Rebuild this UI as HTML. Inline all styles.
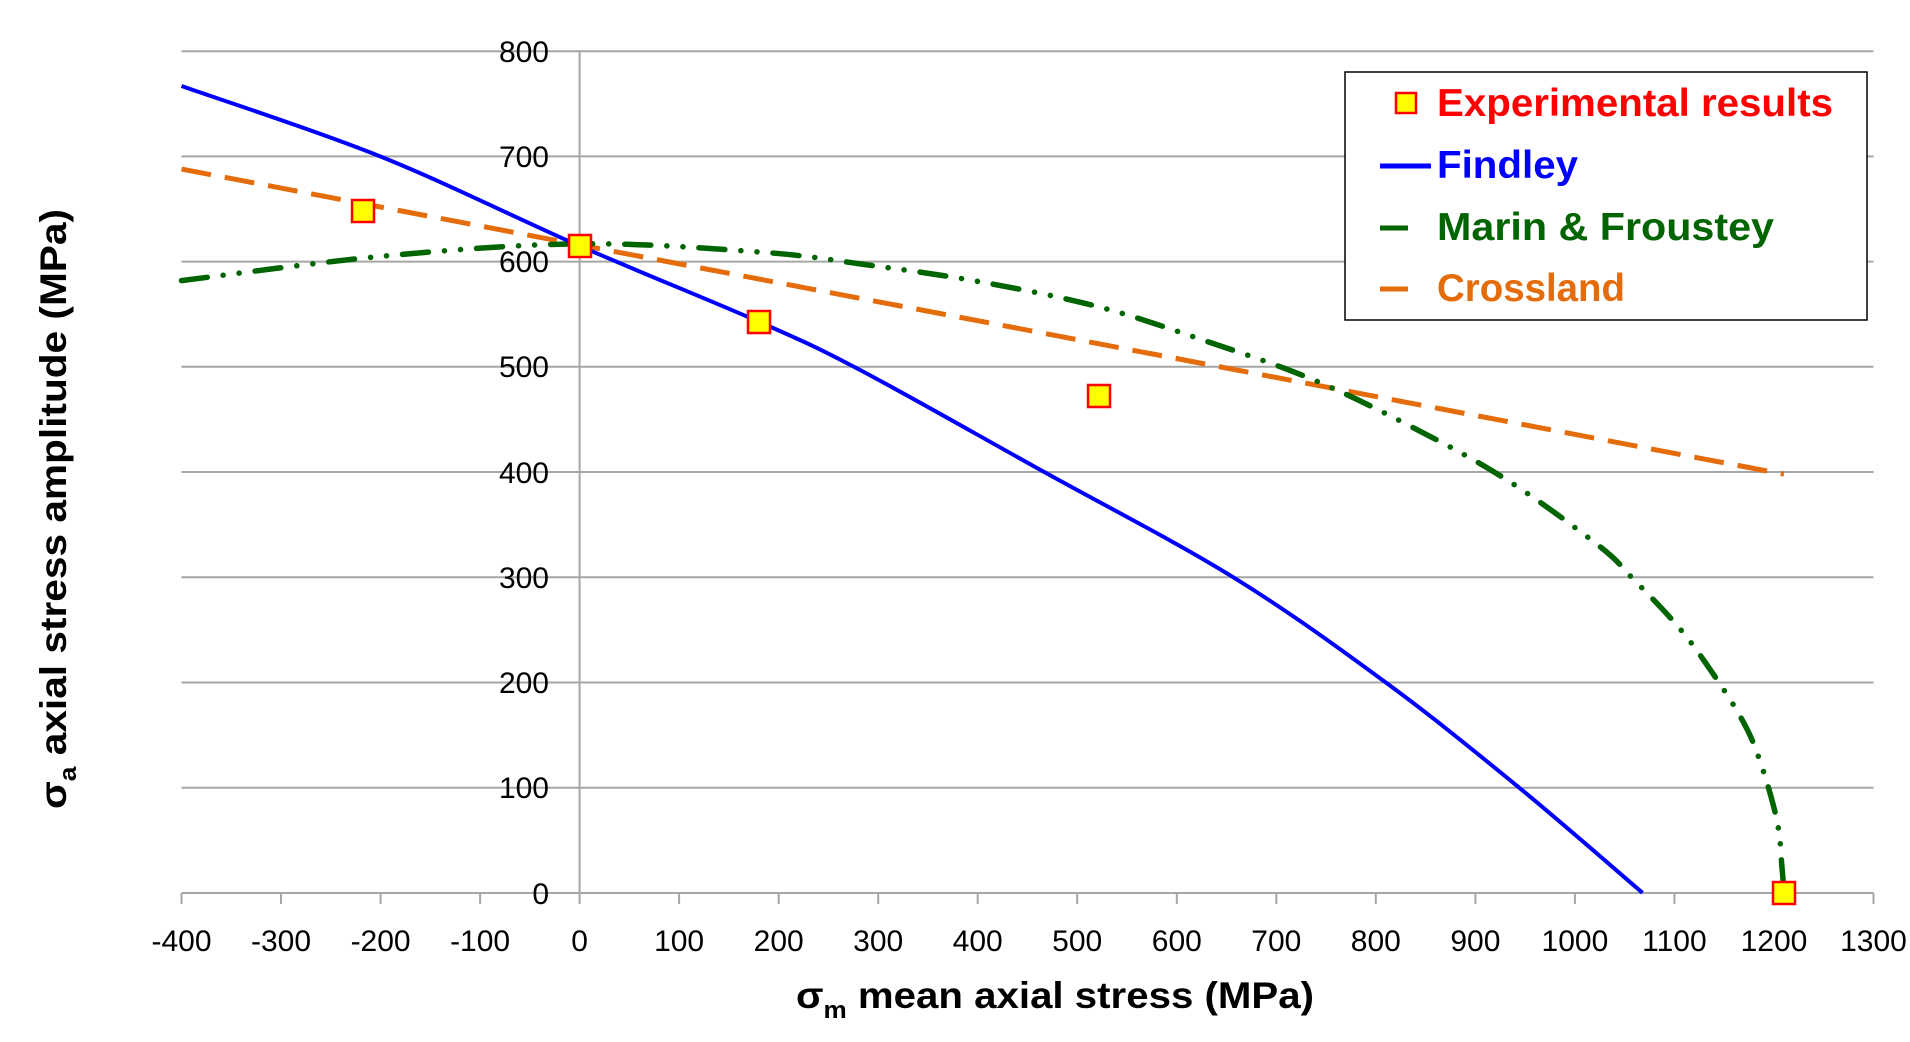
<!DOCTYPE html>
<html><head><meta charset="utf-8"><style>
html,body{margin:0;padding:0;background:#fff;}
svg{display:block;}
text{font-family:"Liberation Sans",sans-serif;}
</style></head><body>
<svg width="1910" height="1042" viewBox="0 0 1910 1042" xmlns="http://www.w3.org/2000/svg">
<g stroke="#a6a6a6" stroke-width="2">
<line x1="181.5" y1="51.2" x2="1873.5" y2="51.2"/>
<line x1="181.5" y1="156.4" x2="1873.5" y2="156.4"/>
<line x1="181.5" y1="261.6" x2="1873.5" y2="261.6"/>
<line x1="181.5" y1="366.8" x2="1873.5" y2="366.8"/>
<line x1="181.5" y1="472" x2="1873.5" y2="472"/>
<line x1="181.5" y1="577.3" x2="1873.5" y2="577.3"/>
<line x1="181.5" y1="682.5" x2="1873.5" y2="682.5"/>
<line x1="181.5" y1="787.7" x2="1873.5" y2="787.7"/>
<line x1="181.5" y1="893" x2="1873.5" y2="893"/>
<line x1="579.6" y1="51.2" x2="579.6" y2="893"/>
</g>
<g stroke="#a6a6a6" stroke-width="2">
<line x1="181.5" y1="893" x2="181.5" y2="904"/><line x1="281" y1="893" x2="281" y2="904"/><line x1="380.6" y1="893" x2="380.6" y2="904"/><line x1="480.1" y1="893" x2="480.1" y2="904"/><line x1="579.6" y1="893" x2="579.6" y2="904"/><line x1="679.1" y1="893" x2="679.1" y2="904"/><line x1="778.7" y1="893" x2="778.7" y2="904"/><line x1="878.2" y1="893" x2="878.2" y2="904"/><line x1="977.7" y1="893" x2="977.7" y2="904"/><line x1="1077.2" y1="893" x2="1077.2" y2="904"/><line x1="1176.8" y1="893" x2="1176.8" y2="904"/><line x1="1276.3" y1="893" x2="1276.3" y2="904"/><line x1="1375.8" y1="893" x2="1375.8" y2="904"/><line x1="1475.4" y1="893" x2="1475.4" y2="904"/><line x1="1574.9" y1="893" x2="1574.9" y2="904"/><line x1="1674.4" y1="893" x2="1674.4" y2="904"/><line x1="1774" y1="893" x2="1774" y2="904"/><line x1="1873.5" y1="893" x2="1873.5" y2="904"/>
</g>
<g font-size="30" fill="#000" text-anchor="end">
<text x="549" y="62">800</text><text x="549" y="167">700</text><text x="549" y="272">600</text><text x="549" y="377">500</text><text x="549" y="483">400</text><text x="549" y="588">300</text><text x="549" y="693">200</text><text x="549" y="798">100</text><text x="549" y="904">0</text>
</g>
<g font-size="30" fill="#000" text-anchor="middle">
<text x="181.5" y="951">-400</text><text x="281" y="951">-300</text><text x="380.6" y="951">-200</text><text x="480.1" y="951">-100</text><text x="579.6" y="951">0</text><text x="679.1" y="951">100</text><text x="778.7" y="951">200</text><text x="878.2" y="951">300</text><text x="977.7" y="951">400</text><text x="1077.2" y="951">500</text><text x="1176.8" y="951">600</text><text x="1276.3" y="951">700</text><text x="1375.8" y="951">800</text><text x="1475.4" y="951">900</text><text x="1574.9" y="951">1000</text><text x="1674.4" y="951">1100</text><text x="1774" y="951">1200</text><text x="1873.5" y="951">1300</text>
</g>
<text x="1055" y="1008" font-size="37" font-weight="bold" text-anchor="middle" textLength="518" lengthAdjust="spacingAndGlyphs">σ<tspan font-size="24" dy="10">m</tspan><tspan dy="-10"> mean axial stress (MPa)</tspan></text>
<text transform="translate(66,509) rotate(-90)" font-size="37" font-weight="bold" text-anchor="middle" textLength="600" lengthAdjust="spacingAndGlyphs">σ<tspan font-size="24" dy="10">a</tspan><tspan dy="-10"> axial stress amplitude (MPa)</tspan></text>

<line x1="181.5" y1="169.1" x2="1783.9" y2="474.2" stroke="#e46c0a" stroke-width="5" stroke-dasharray="30 14"/>
<path id="marin" fill="none" stroke="#006400" stroke-width="5.5" stroke-linecap="round" stroke-dasharray="26 16 0.1 16 0.1 16" d="M181.5,280.6 L579.6,245.9 L977.7,280.6 L1783.9,892.9"/>
<path id="findley" fill="none" stroke="#0000ff" stroke-width="4" d="M181.5,86 L579.6,249.1 L1642.6,892.9"/>
<g fill="#ffff00" stroke="#ff0000" stroke-width="2.5">
<rect x="352" y="200" width="22" height="22"/>
<rect x="569" y="235" width="22" height="22"/>
<rect x="748" y="311" width="22" height="22"/>
<rect x="1088" y="385" width="22" height="22"/>
<rect x="1773" y="882" width="22" height="22"/>
</g>
<rect x="1345" y="72" width="522" height="248" fill="#fff" stroke="#000" stroke-width="1.5"/>
<rect x="1396" y="93" width="20" height="20" fill="#ffff00" stroke="#ff0000" stroke-width="2.5"/>
<line x1="1380" y1="166" x2="1431" y2="166" stroke="#0000ff" stroke-width="5"/>
<line x1="1380" y1="228" x2="1408" y2="228" stroke="#006400" stroke-width="5"/>
<line x1="1380" y1="289" x2="1408" y2="289" stroke="#e46c0a" stroke-width="5"/>
<g font-size="39" font-weight="bold">
<text x="1437" y="116" fill="#ff0000" textLength="396" lengthAdjust="spacingAndGlyphs">Experimental results</text>
<text x="1437" y="178" fill="#0000ff" textLength="141" lengthAdjust="spacingAndGlyphs">Findley</text>
<text x="1437" y="240" fill="#006400" textLength="337" lengthAdjust="spacingAndGlyphs">Marin &amp; Froustey</text>
<text x="1437" y="301" fill="#e46c0a" textLength="188" lengthAdjust="spacingAndGlyphs">Crossland</text>
</g>
</svg>
<script>
function px(x){return 579.6+x*0.9953;}
function py(y){return 892.9-y*1.052;}
function smooth(data){
  var p=data.map(function(d){return [px(d[0]),py(d[1])];});
  var s="M"+p[0][0].toFixed(1)+","+p[0][1].toFixed(1);
  for(var i=0;i<p.length-1;i++){
    var p0=p[i>0?i-1:0],p1=p[i],p2=p[i+1],p3=p[i+2<p.length?i+2:i+1];
    var c1=[p1[0]+(p2[0]-p0[0])/6,p1[1]+(p2[1]-p0[1])/6];
    var c2=[p2[0]-(p3[0]-p1[0])/6,p2[1]-(p3[1]-p1[1])/6];
    s+=" C"+c1[0].toFixed(1)+","+c1[1].toFixed(1)+" "+c2[0].toFixed(1)+","+c2[1].toFixed(1)+" "+p2[0].toFixed(1)+","+p2[1].toFixed(1);
  }
  return s;
}
document.getElementById("findley").setAttribute("d",smooth([[-400,767],[-200,700],[0,615],[180,543],[282,497],[465,401],[655,301],[810,200],[944,100],[1068,0]]));
document.getElementById("marin").setAttribute("d",smooth([[-400,582],[-200,605],[0,617],[183,609],[289,597],[402,581],[522,557],[628,525],[734,489],[832,445],[931,393],[1024,330],[1058,299],[1102,255],[1131,219],[1166,168],[1185,128],[1203,69],[1208,25],[1210,0]]));
</script>
</body></html>
